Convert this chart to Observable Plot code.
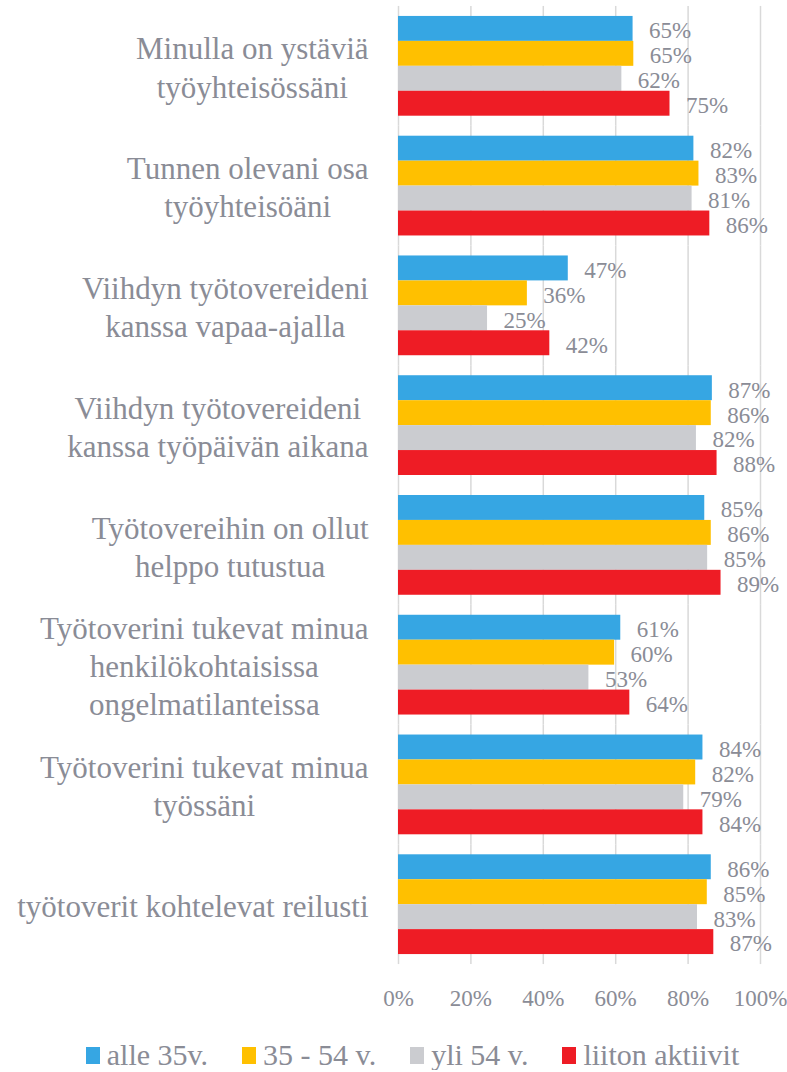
<!DOCTYPE html>
<html><head><meta charset="utf-8">
<script src="https://cdn.jsdelivr.net/npm/d3@7"></script>
<script src="https://cdn.jsdelivr.net/npm/@observablehq/plot@0.6"></script>
<style>
body{margin:0;background:#fff;}
#legend{display:flex;justify-content:center;padding-left:38px;gap:34px;font-family:"Liberation Serif";font-size:30px;color:#8a8c96;line-height:30px;padding-top:28px;}
.item{display:flex;align-items:center;white-space:nowrap;}
.sw{width:14px;height:17px;margin-right:7px;}
</style></head><body>
<div id="chart"></div><div id="legend"></div>
<script>
const categories = [
  "Minulla on ystäviä\ntyöyhteisössäni",
  "Tunnen olevani osa\ntyöyhteisöäni",
  "Viihdyn työtovereideni\nkanssa vapaa-ajalla",
  "Viihdyn työtovereideni\nkanssa työpäivän aikana",
  "Työtovereihin on ollut\nhelppo tutustua",
  "Työtoverini tukevat minua\nhenkilökohtaisissa\nongelmatilanteissa",
  "Työtoverini tukevat minua\ntyössäni",
  "työtoverit kohtelevat reilusti"
];
const series = ["alle 35v.", "35 - 54 v.", "yli 54 v.", "liiton aktiivit"];
const colors = ["#36a6e3", "#ffc000", "#cbccd0", "#ee1c25"];
const alle35   = [64.8, 81.6, 46.9, 86.7, 84.6, 61.4, 84.1, 86.4];
const v35_54   = [65.0, 83.0, 35.6, 86.4, 86.4, 59.7, 82.1, 85.3];
const yli54    = [61.7, 81.1, 24.6, 82.3, 85.4, 52.6, 78.8, 82.6];
const aktiivit = [75.0, 86.0, 41.8, 88.0, 89.1, 63.9, 84.1, 87.1];
const xTicks = [0, 20, 40, 60, 80, 100];

const seriesValues = [alle35, v35_54, yli54, aktiivit];
const data = [];
categories.forEach((c, i) => series.forEach((s, j) => data.push({category: c, series: s, value: seriesValues[j][i]})));

const textColor = "#8a8c96";
const serif = "'Liberation Serif', serif";
const ctx = document.createElement("canvas").getContext("2d");
ctx.font = "31px 'Liberation Serif'";
const labelMarks = categories.map(c => {
  const w = d3.max(c.split("\n"), l => ctx.measureText(l).width);
  return Plot.text([c], {fy: d => d, text: d => d, frameAnchor: "left", textAnchor: "middle",
    dx: -30 - w / 2, lineHeight: 1.23, fontSize: 31, fontFamily: serif, fill: textColor});
});

const chart = Plot.plot({
  width: 787, height: 1012,
  marginLeft: 398, marginRight: 27, marginTop: 6, marginBottom: 48,
  style: {fontFamily: serif, fontSize: "23px", color: textColor, background: "#fff"},
  x: {domain: [0, 100], axis: null},
  y: {domain: series, padding: 0, axis: null, round: false},
  fy: {domain: categories, paddingInner: 0.167, paddingOuter: 0.083, axis: null, round: false},
  color: {domain: series, range: colors},
  marks: [
    Plot.ruleX(xTicks, {insetTop: -10, insetBottom: -10, stroke: "#d9d9d9", strokeWidth: 1.5}),
    Plot.barX(data, {fy: "category", y: "series", x: "value", fill: "series"}),
    Plot.text(data, {fy: "category", y: "series", x: "value", text: d => Math.round(d.value) + "%",
      textAnchor: "start", dx: 16, dy: 2, fontSize: 23, fontFamily: serif, fill: textColor}),
    Plot.axisX(xTicks, {tickFormat: d => d + "%", tickSize: 0, tickPadding: 35, fontSize: 23, fontFamily: serif, fill: textColor, label: null}),
    ...labelMarks
  ]
});
document.getElementById("chart").appendChild(chart);

const legend = document.getElementById("legend");
series.forEach((s, j) => {
  const item = document.createElement("div");
  item.className = "item";
  const sw = document.createElement("span");
  sw.className = "sw";
  sw.style.background = colors[j];
  item.appendChild(sw);
  item.appendChild(document.createTextNode(s));
  legend.appendChild(item);
});
</script>
</body></html>
